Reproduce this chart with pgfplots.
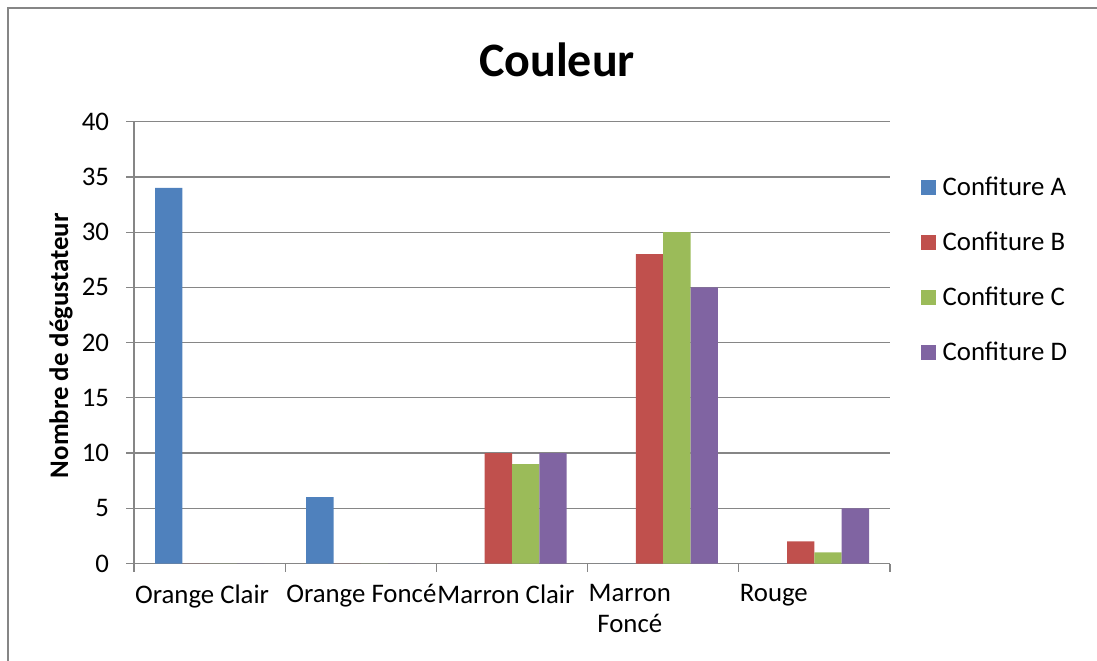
\documentclass[border=0pt]{standalone}
\usepackage{fontspec}
\setmainfont{Carlito}
\usepackage{pgfplots}
\pgfplotsset{compat=1.18}

\definecolor{confA}{HTML}{4F81BD}
\definecolor{confB}{HTML}{C0504D}
\definecolor{confC}{HTML}{9BBB59}
\definecolor{confD}{HTML}{8064A2}
\definecolor{gridgray}{HTML}{868686}

\pgfplotstableread{
cat A  B  C  D
0   34 0  0  0
1   6  0  0  0
2   0  10 9  10
3   0  28 30 25
4   0  2  1  5
}\couleur

\begin{document}
\begin{tikzpicture}
\useasboundingbox (0,0) rectangle (548.5pt,330pt);
\draw[gridgray, line width=0.6pt] (4pt,-5pt) rectangle (555pt,326pt);
\node[font=\bfseries\fontsize{24}{28}\selectfont] at (278.5pt,300pt) {Couleur};
\begin{axis}[
  at={(67pt,48.25pt)}, anchor=south west,
  scale only axis,
  width=378pt, height=220.9pt,
  xmin=-0.5, xmax=4.5,
  ymin=0, ymax=40,
  ytick distance=5,
  xtick={-0.5,0.5,1.5,2.5,3.5,4.5},
  xticklabels={Orange Clair,Orange Foncé,Marron Clair,{Marron\\Foncé},Rouge,{}},
  xticklabel style={anchor=north west, align=center, xshift=-3pt, yshift=-3pt},
  yticklabel style={xshift=-5pt},
  font=\fontsize{13.4}{15.5}\selectfont,
  /pgf/number format/assume math mode=true,
  tick align=outside,
  major tick length=4pt,
  tick style={gridgray, line width=0.6pt},
  axis line style={gridgray, line width=0.6pt},
  axis x line*=bottom, axis y line*=left,
  ymajorgrids,
  grid style={gridgray, line width=0.6pt},
  ylabel={\bfseries Nombre de dégustateur},
  ylabel style={at={(axis description cs:-0.0966,0.493)}, anchor=center},
  ybar=0pt, bar width=13.65pt,
  legend style={at={(axis description cs:1.032,0.895)}, anchor=north west,
    draw=none, fill=none, row sep=12.8pt,
    font=\fontsize{13.4}{15.5}\selectfont},
  legend cell align=left,
  legend image code/.code={\fill[#1] (0pt,-3.75pt) rectangle (7.5pt,3.75pt);
    \path (9pt,0pt);},
]
\addplot[fill=confA, draw=none] table[x=cat, y=A] {\couleur};
\addplot[fill=confB, draw=none] table[x=cat, y=B] {\couleur};
\addplot[fill=confC, draw=none] table[x=cat, y=C] {\couleur};
\addplot[fill=confD, draw=none] table[x=cat, y=D] {\couleur};
\legend{Confiture A,Confiture B,Confiture C,Confiture D}
\end{axis}
\end{tikzpicture}
\end{document}
